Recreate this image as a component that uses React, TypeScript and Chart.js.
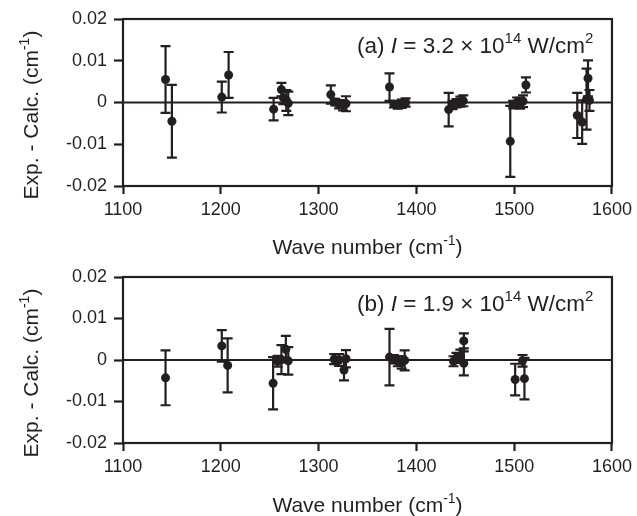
import React, { useEffect, useRef } from "react";
import { Chart, registerables } from "chart.js";
Chart.register(...registerables);

const INK = "#231f20";
const FONT = "'Liberation Sans', Arial, Helvetica, sans-serif";

const xTicks = [1100, 1200, 1300, 1400, 1500, 1600];
const xTickLabels = ["1100", "1200", "1300", "1400", "1500", "1600"];
const yTicks = [-0.02, -0.01, 0, 0.01, 0.02];
const yTickLabels = ["-0.02", "-0.01", "0", "0.01", "0.02"];

// Panel (a): I = 3.2 x 10^14 W/cm^2
const waveA = [1143.5, 1150, 1201, 1208, 1254, 1262, 1264, 1267, 1269, 1312.5, 1317, 1321, 1325, 1328, 1372.5, 1377, 1381, 1385, 1389, 1433, 1437, 1441, 1445, 1448, 1496, 1499, 1503, 1506, 1509, 1512, 1564.5, 1569.5, 1574, 1575.5, 1577];
const diffA = [0.0055, -0.0045, 0.0013, 0.0066, -0.0016, 0.0031, 0.0011, 0.0005, -0.0002, 0.0019, 0.0001, -0.0004, -0.0007, -0.0003, 0.0037, -0.0004, -0.0006, -0.0003, 0.0, -0.0017, -0.0006, -0.0002, 0.0002, 0.0004, -0.0093, -0.0005, 0.0001, -0.0002, 0.0003, 0.0042, -0.0031, -0.0047, 0.0008, 0.0058, 0.0005];
const errA = [0.008, 0.0087, 0.0037, 0.0055, 0.0027, 0.0016, 0.0015, 0.0025, 0.0028, 0.0022, 0.0008, 0.001, 0.0012, 0.0018, 0.0033, 0.0008, 0.0009, 0.001, 0.001, 0.004, 0.001, 0.001, 0.0012, 0.0013, 0.0085, 0.0009, 0.0011, 0.0013, 0.0014, 0.0018, 0.0054, 0.0052, 0.0073, 0.0043, 0.0025];

// Panel (b): I = 1.9 x 10^14 W/cm^2
const waveB = [1143.5, 1201, 1207, 1253.5, 1258, 1262, 1266.5, 1269, 1316, 1321, 1326, 1328, 1372.5, 1377, 1381, 1385, 1388, 1438, 1441, 1445, 1448.5, 1448.5, 1501, 1508.5, 1510.5];
const diffB = [-0.0043, 0.0034, -0.0013, -0.0056, -0.0003, 0.0001, 0.0026, -0.0002, 0.0002, 0.0, -0.0024, 0.0003, 0.0007, 0.0002, -0.0003, -0.0006, -0.0001, -0.0003, 0.0005, 0.001, 0.0046, -0.0008, -0.0047, -0.0002, -0.0045];
const errB = [0.0066, 0.0038, 0.0065, 0.0063, 0.0013, 0.0035, 0.0032, 0.0033, 0.0012, 0.0014, 0.0025, 0.0021, 0.0068, 0.001, 0.0012, 0.0015, 0.0024, 0.0012, 0.0012, 0.0015, 0.0018, 0.0029, 0.0038, 0.0014, 0.005];

const xTitle = "Wave number (cm";
const yTitle = "Exp. - Calc. (cm";

type Seg = { t: string; sup?: boolean; it?: boolean };

const TITLE_SIZE = 21;
const ANNOT_SIZE = 22.5;
const SUP_SIZE = 14;
const SUP_RAISE = 9;

function fontOf(s: Seg, size: number) {
  return `${s.it ? "italic " : ""}${s.sup ? SUP_SIZE * size / TITLE_SIZE : size}px ${FONT}`;
}
function richWidth(ctx: CanvasRenderingContext2D, segs: Seg[], size: number) {
  let w = 0;
  for (const s of segs) {
    ctx.font = fontOf(s, size);
    w += ctx.measureText(s.t).width;
  }
  return w;
}
function drawRich(ctx: CanvasRenderingContext2D, segs: Seg[], x: number, y: number, size: number) {
  let cx = x;
  ctx.textBaseline = "alphabetic";
  ctx.textAlign = "left";
  for (const s of segs) {
    ctx.font = fontOf(s, size);
    ctx.fillText(s.t, cx, s.sup ? y - SUP_RAISE * size / TITLE_SIZE : y);
    cx += ctx.measureText(s.t).width;
  }
}

function makePlugin(errs: number[], label: string, intensity: string) {
  return {
    id: "errbarsAndText",
    beforeDatasetsDraw(chart: any) {
      const { ctx, chartArea: a, scales } = chart;
      const x = scales.x;
      const y = scales.y;
      ctx.save();
      ctx.strokeStyle = INK;
      ctx.lineWidth = 2.2;
      const y0 = y.getPixelForValue(0);
      ctx.beginPath();
      ctx.moveTo(a.left, y0);
      ctx.lineTo(a.right, y0);
      ctx.stroke();
      const data = chart.data.datasets[0].data as { x: number; y: number }[];
      data.forEach((p, i) => {
        const px = x.getPixelForValue(p.x);
        const top = y.getPixelForValue(p.y + errs[i]);
        const bot = y.getPixelForValue(p.y - errs[i]);
        ctx.beginPath();
        ctx.moveTo(px, top);
        ctx.lineTo(px, bot);
        ctx.moveTo(px - 5, top);
        ctx.lineTo(px + 5, top);
        ctx.moveTo(px - 5, bot);
        ctx.lineTo(px + 5, bot);
        ctx.stroke();
      });
      ctx.restore();
    },
    afterDraw(chart: any) {
      const { ctx, chartArea: a } = chart;
      ctx.save();
      ctx.strokeStyle = INK;
      ctx.lineWidth = 2.2;
      ctx.strokeRect(a.left, a.top, a.right - a.left, a.bottom - a.top);
      ctx.fillStyle = INK;
      // x title
      const xs: Seg[] = [{ t: xTitle }, { t: "-1", sup: true }, { t: ")" }];
      const xw = richWidth(ctx, xs, TITLE_SIZE);
      drawRich(ctx, xs, (a.left + a.right) / 2 - xw / 2, 254, TITLE_SIZE);
      // y title
      const ys: Seg[] = [{ t: yTitle }, { t: "-1", sup: true }, { t: ")" }];
      const yw = richWidth(ctx, ys, TITLE_SIZE);
      ctx.save();
      ctx.translate(38, 115);
      ctx.rotate(-Math.PI / 2);
      drawRich(ctx, ys, -yw / 2, 0, TITLE_SIZE);
      ctx.restore();
      // annotation
      const an: Seg[] = [
        { t: `${label} ` },
        { t: "I", it: true },
        { t: ` = ${intensity} \u00d7 10` },
        { t: "14", sup: true },
        { t: " W/cm" },
        { t: "2", sup: true },
      ];
      drawRich(ctx, an, 357, 53, ANNOT_SIZE);
      ctx.restore();
    },
  };
}

function Panel(props: { wave: number[]; diff: number[]; err: number[]; label: string; intensity: string; bottom: number }) {
  const ref = useRef<HTMLCanvasElement>(null);
  useEffect(() => {
    if (!ref.current) return;
    const { wave, diff, err, label, intensity, bottom } = props;
    const chart = new Chart(ref.current, {
      type: "scatter",
      data: {
        datasets: [
          {
            data: wave.map((w, i) => ({ x: w, y: diff[i] })),
            pointRadius: 4.5,
            pointBackgroundColor: INK,
            pointBorderColor: INK,
            pointBorderWidth: 0,
            showLine: false,
          },
        ],
      },
      options: {
        animation: false,
        responsive: false,
        layout: { padding: { left: 0, right: 23, top: 19, bottom: 0 } },
        plugins: { legend: { display: false }, tooltip: { enabled: false } },
        scales: {
          x: {
            type: "linear",
            min: 1100,
            max: 1600,
            afterBuildTicks: (s: any) => {
              s.ticks = xTicks.map((v) => ({ value: v }));
            },
            ticks: {
              color: INK,
              font: { family: FONT, size: 18 },
              padding: 5,
              maxRotation: 0,
              autoSkip: false,
              callback: (v: any) => {
                const i = xTicks.findIndex((t) => Math.abs(t - Number(v)) < 1e-6);
                return i >= 0 ? xTickLabels[i] : "";
              },
            },
            grid: { drawOnChartArea: false, tickLength: 8, tickWidth: 2.2, tickColor: INK },
            border: { display: false },
            afterFit: (s: any) => {
              s.height = 258 - bottom;
            },
          },
          y: {
            type: "linear",
            min: -0.02,
            max: 0.02,
            afterBuildTicks: (s: any) => {
              s.ticks = yTicks.map((v) => ({ value: v }));
            },
            ticks: {
              color: INK,
              font: { family: FONT, size: 18 },
              padding: 7,
              autoSkip: false,
              callback: (v: any) => {
                const i = yTicks.findIndex((t) => Math.abs(t - Number(v)) < 1e-9);
                return i >= 0 ? yTickLabels[i] : "";
              },
            },
            grid: { drawOnChartArea: false, tickLength: 9, tickWidth: 2.2, tickColor: INK },
            border: { display: false },
            afterFit: (s: any) => {
              s.width = 123;
            },
          },
        },
      },
      plugins: [makePlugin(err, label, intensity)],
    } as any);
    return () => chart.destroy();
  }, []);
  return <canvas ref={ref} width={637} height={258} style={{ display: "block", width: 637, height: 258 }} />;
}

export default function App() {
  return (
    <div style={{ position: "absolute", left: 0, top: 0, width: 637, height: 516, background: "#fff" }}>
      <Panel wave={waveA} diff={diffA} err={errA} label="(a)" intensity="3.2" bottom={186} />
      <Panel wave={waveB} diff={diffB} err={errB} label="(b)" intensity="1.9" bottom={185} />
    </div>
  );
}
